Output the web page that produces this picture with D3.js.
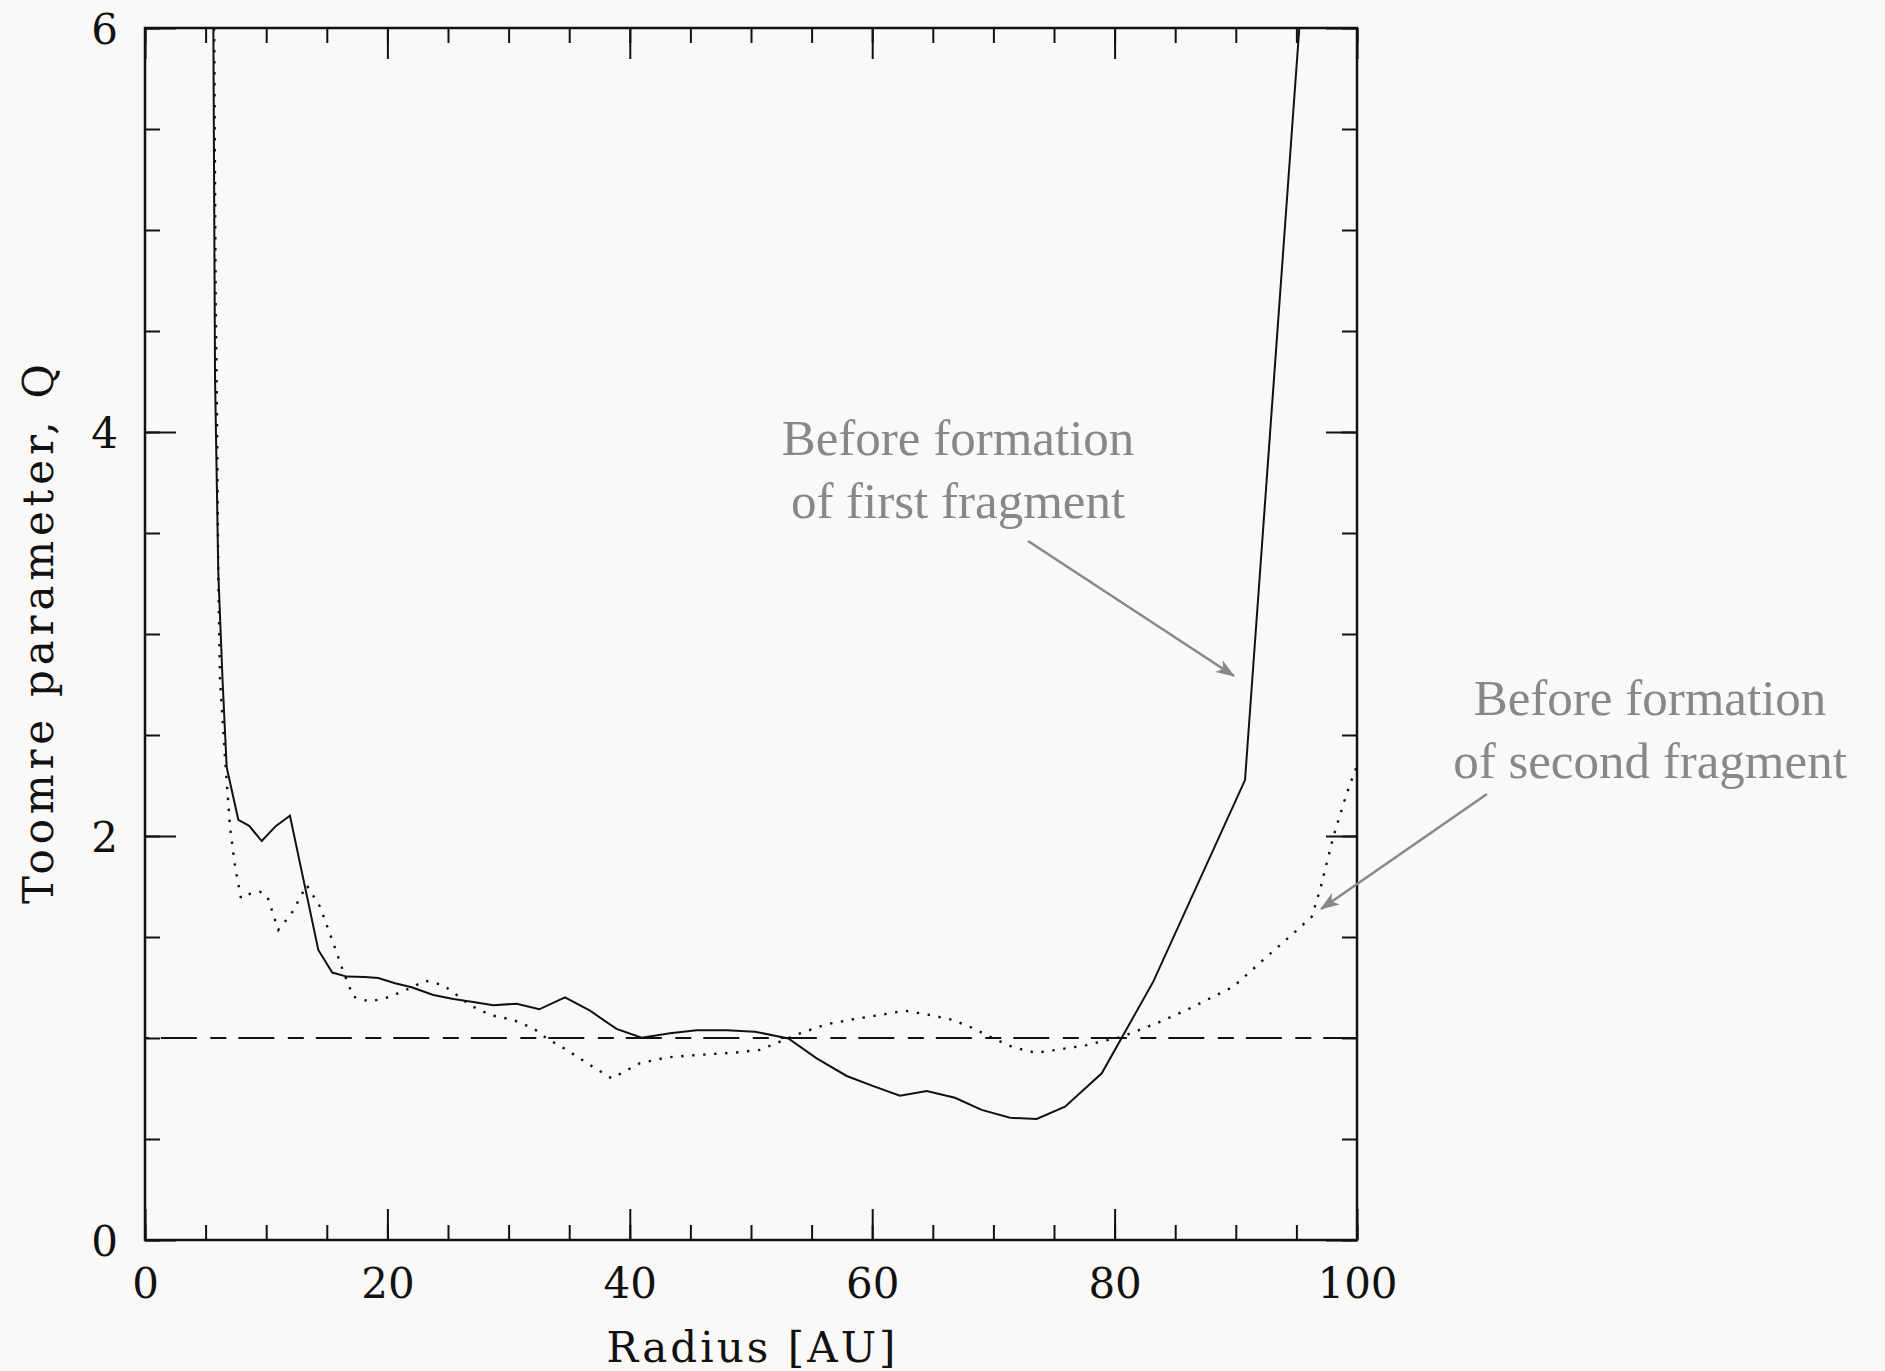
<!DOCTYPE html>
<head>
<meta charset="utf-8">
<title>Toomre parameter</title>
<script type="text/javascript" src="https://d3js.org/d3.v7.min.js"></script>
<style>
    body { margin: 0; background: #faf9f7; }
    svg { display: block; }
</style>
</head>
<body>
<div id="my_dataviz"></div>
<script>

    // solid line: before formation of first fragment
    var firstR = [5.64, 5.78, 6.05, 6.4, 6.74, 7.7, 8.6, 9.63, 10.81, 11.96, 14.3, 15.45, 16.64, 18.15,
        19.25, 20.63, 22.0, 23.79, 25.44, 27.09, 28.74, 30.67, 32.53, 34.65, 36.72, 38.9, 40.98, 43.32,
        45.52, 48.0, 50.33, 53.08, 55.42, 57.9, 60.09, 62.29, 64.5, 66.83, 69.03, 71.37, 73.57, 75.91,
        78.94, 83.19, 90.76, 95.24];
    var firstQ = [6.0, 4.26, 3.3, 2.77, 2.34, 2.08, 2.05, 1.975, 2.05, 2.10, 1.436, 1.324, 1.304, 1.302,
        1.297, 1.271, 1.251, 1.213, 1.193, 1.178, 1.162, 1.170, 1.142, 1.201, 1.135, 1.045, 1.001, 1.023,
        1.038, 1.038, 1.031, 0.998, 0.899, 0.812, 0.762, 0.714, 0.737, 0.704, 0.644, 0.605, 0.599, 0.660,
        0.825, 1.279, 2.277, 6.0];

    // dotted line: before formation of second fragment
    var secondR = [5.71, 5.83, 5.92, 6.05, 6.19, 6.6, 7.01, 7.43, 7.92, 8.7, 9.49, 10.1, 11.0, 12.1, 13.34,
        14.44, 15.54, 16.36, 17.19, 18.56, 20.21, 22.14, 23.1, 24.6, 25.72, 26.8, 28.47, 30.4, 32.04, 33.14,
        34.79, 36.72, 38.5, 40.84, 43.04, 45.79, 48.54, 50.74, 52.39, 54.04, 56.25, 58.44, 60.64, 62.71,
        64.77, 66.69, 68.34, 69.99, 71.64, 73.5, 75.5, 77.7, 80.58, 83.47, 85.95, 89.8, 92.55, 94.75, 96.26,
        96.95, 98.05, 99.15, 99.97];
    var secondQ = [6.0, 4.65, 4.21, 3.27, 2.77, 2.39, 2.046, 1.848, 1.692, 1.715, 1.724, 1.70, 1.535, 1.617, 1.757,
        1.65, 1.469, 1.328, 1.204, 1.18, 1.204, 1.254, 1.284, 1.262, 1.213, 1.163, 1.114, 1.089, 1.048, 0.998,
        0.941, 0.866, 0.80, 0.875, 0.904, 0.917, 0.927, 0.941, 0.982, 1.023, 1.068, 1.093, 1.114, 1.135,
        1.114, 1.089, 1.048, 0.998, 0.954, 0.927, 0.944, 0.965, 1.006, 1.073, 1.139, 1.254, 1.402, 1.518, 1.60,
        1.733, 1.997, 2.211, 2.343];

    var xMajor = [0, 20, 40, 60, 80, 100];
    var xMinor = d3.range(0, 101, 5);
    var yMajor = [0, 2, 4, 6];
    var yMinor = d3.range(0, 6.01, 0.5);
    var criticalQ = 1;

    var note1 = ["Before formation", "of first fragment"];
    var note2 = ["Before formation", "of second fragment"];

    var W = 1885, H = 1371;
    var margin = {top: 28, right: 528, bottom: 131, left: 145},
        width = W - margin.left - margin.right,
        height = H - margin.top - margin.bottom;

    var svg = d3.select("#my_dataviz")
      .append("svg")
        .attr("width", W)
        .attr("height", H);

    var g = svg.append("g")
        .attr("transform", "translate(" + margin.left + "," + margin.top + ")");

    var x = d3.scaleLinear().domain([0, 100]).range([0, width]);
    var y = d3.scaleLinear().domain([0, 6]).range([height, 0]);

    var tickFont = "'DejaVu Serif', serif";

    // ticks on all four sides, pointing inward (size given already signed)
    function ticks(axisFn, scale, vals, size, transform, withLabels) {
        var ax = axisFn(scale).tickValues(vals).tickSize(size).tickSizeOuter(0);
        if (withLabels) ax.tickFormat(d3.format("d"));
        else ax.tickFormat("");
        var a = g.append("g").attr("transform", transform).call(ax);
        a.select(".domain").remove();
        a.selectAll("line").attr("stroke", "#111").attr("stroke-width", 2);
        return a;
    }

    ticks(d3.axisBottom, x, xMinor, -15, "translate(0," + height + ")", false);
    var xb = ticks(d3.axisBottom, x, xMajor, -31, "translate(0," + height + ")", true);
    ticks(d3.axisTop, x, xMinor, -15, "translate(0,0)", false);
    ticks(d3.axisTop, x, xMajor, -31, "translate(0,0)", false);
    ticks(d3.axisLeft, y, yMinor, -15, "translate(0,0)", false);
    var yl = ticks(d3.axisLeft, y, yMajor, -31, "translate(0,0)", true);
    ticks(d3.axisRight, y, yMinor, -15, "translate(" + width + ",0)", false);
    ticks(d3.axisRight, y, yMajor, -31, "translate(" + width + ",0)", false);

    xb.selectAll("text")
        .attr("y", 58)
        .attr("dy", 0)
        .style("font-family", tickFont)
        .style("font-size", "42px")
        .attr("fill", "#111");
    yl.selectAll("text")
        .attr("x", -27)
        .attr("dy", "0.36em")
        .style("font-family", tickFont)
        .style("font-size", "42px")
        .attr("fill", "#111");

    // frame
    g.append("rect")
        .attr("width", width)
        .attr("height", height)
        .attr("fill", "none")
        .attr("stroke", "#111")
        .attr("stroke-width", 2.5);

    g.append("clipPath").attr("id", "clip")
      .append("rect").attr("width", width).attr("height", height);

    var line = d3.line()
        .x(function(d) { return x(d[0]); })
        .y(function(d) { return y(d[1]); });

    var curves = g.append("g").attr("clip-path", "url(#clip)");

    // Q = 1 reference
    curves.append("line")
        .attr("x1", x(0)).attr("x2", x(100))
        .attr("y1", y(criticalQ)).attr("y2", y(criticalQ))
        .attr("stroke", "#111")
        .attr("stroke-width", 2)
        .attr("stroke-dasharray", "36,13.5,16,12")
        .attr("stroke-dashoffset", 61.7);

    curves.append("path")
        .datum(d3.zip(secondR, secondQ))
        .attr("d", line)
        .attr("fill", "none")
        .attr("stroke", "#111")
        .attr("stroke-width", 2.4)
        .attr("stroke-dasharray", "2.4,8.6");

    curves.append("path")
        .datum(d3.zip(firstR, firstQ))
        .attr("d", line)
        .attr("fill", "none")
        .attr("stroke", "#111")
        .attr("stroke-width", 2);

    // axis titles
    svg.append("text")
        .attr("x", margin.left + width / 2)
        .attr("y", 1362)
        .attr("text-anchor", "middle")
        .attr("textLength", 289)
        .attr("lengthAdjust", "spacing")
        .style("font-family", tickFont)
        .style("font-size", "42px")
        .attr("fill", "#111")
        .text("Radius [AU]");

    svg.append("text")
        .attr("transform", "translate(53," + (margin.top + height / 2) + ") rotate(-90)")
        .attr("text-anchor", "middle")
        .attr("textLength", 540)
        .attr("lengthAdjust", "spacing")
        .style("font-family", tickFont)
        .style("font-size", "42px")
        .attr("fill", "#111")
        .text("Toomre parameter, Q");

    // annotations
    var grey = "#888";
    svg.append("defs").append("marker")
        .attr("id", "head")
        .attr("viewBox", "0 -8 20 16")
        .attr("refX", 18).attr("refY", 0)
        .attr("markerWidth", 20).attr("markerHeight", 16)
        .attr("markerUnits", "userSpaceOnUse")
        .attr("orient", "auto")
      .append("path")
        .attr("d", "M0,-7 L19,0 L0,7 L5,0 Z")
        .attr("fill", grey);

    function note(lines, cx, base) {
        svg.append("g").selectAll("text")
            .data(lines)
            .enter()
            .append("text")
            .attr("x", cx)
            .attr("y", function(d, i) { return base + i * 63; })
            .attr("text-anchor", "middle")
            .style("font-family", "'Liberation Serif', serif")
            .style("font-size", "51px")
            .attr("fill", grey)
            .text(function(d) { return d; });
    }
    note(note1, 958, 455);
    note(note2, 1650, 715);

    function arrow(x1, y1, x2, y2) {
        svg.append("line")
            .attr("x1", x1).attr("y1", y1)
            .attr("x2", x2).attr("y2", y2)
            .attr("stroke", grey)
            .attr("stroke-width", 2.5)
            .attr("marker-end", "url(#head)");
    }
    arrow(1028, 541, 1234, 676);
    arrow(1487, 794, 1321, 909);

</script>
</body>
